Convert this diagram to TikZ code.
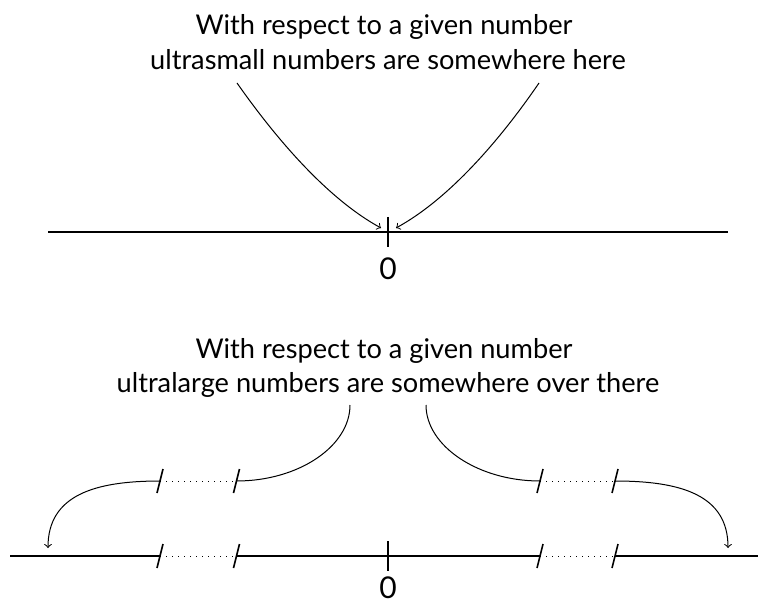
\documentclass[tikz,border=0pt]{standalone}
\usepackage{fontspec}
\newfontfamily\lbfont{Lato}
\begin{document}
\begin{tikzpicture}[x=0.5pt,y=-0.5pt,
  axis/.style={line width=0.8pt},
  arr/.style={line width=0.5pt,->},
  link/.style={line width=0.5pt},
  brk/.style={line width=0.8pt},
  gap/.style={line width=0.5pt,dash pattern=on 0.5pt off 2.5pt},
  lbl/.style={font=\lbfont\fontsize{13.6}{16}\selectfont, anchor=base, inner sep=0pt},
  zero/.style={font=\lbfont\fontsize{15}{18}\selectfont, anchor=base, inner sep=0pt},
  brkmark/.pic={\draw[brk] (3,-12) -- (-3,12);},
  tickmark/.pic={\draw[axis] (0,-15) -- (0,15);}]
\useasboundingbox (0,0) rectangle (758,603);

% ---------- top diagram ----------
\node[lbl] (ta) at (384,35) {With respect to a given number};
\node[lbl] (tb) at (388,70) {ultrasmall numbers are somewhere here};
\coordinate (tl) at (48,232);
\coordinate (tr) at (728,232);
\coordinate (t0) at (388,232);
\draw[axis] (tl) -- (tr);
\pic at (t0) {tickmark};
\node[zero] (z1) at (388,280) {0};
\coordinate (as1) at (237,83);
\coordinate (ae1) at (381,228);
\coordinate (as2) at (539,83);
\coordinate (ae2) at (396,228);
\draw[arr] (as1) .. controls (277,140) and (328,199) .. (ae1);
\draw[arr] (as2) .. controls (500,140) and (449,199) .. (ae2);

% ---------- bottom diagram ----------
\node[lbl] (ba) at (384,358) {With respect to a given number};
\node[lbl] (bb) at (388,392) {ultralarge numbers are somewhere over there};

\coordinate (bl) at (10,556);
\coordinate (b1) at (160,556);
\coordinate (b2) at (236.5,556);
\coordinate (b0) at (388,556);
\coordinate (b3) at (540,556);
\coordinate (b4) at (615,556);
\coordinate (br) at (758,556);
\draw[axis] (bl) -- (b1);
\draw[gap] (b1) -- (b2);
\draw[axis] (b2) -- (b3);
\draw[gap] (b3) -- (b4);
\draw[axis] (b4) -- (br);
\pic at (b1) {brkmark};
\pic at (b2) {brkmark};
\pic at (b3) {brkmark};
\pic at (b4) {brkmark};
\pic at (b0) {tickmark};
\node[zero] (z2) at (388,598) {0};

\coordinate (u1) at (160,481);
\coordinate (u2) at (236.5,481);
\coordinate (u3) at (540,481);
\coordinate (u4) at (615,481);
\draw[gap] (u1) -- (u2);
\draw[gap] (u3) -- (u4);
\pic at (u1) {brkmark};
\pic at (u2) {brkmark};
\pic at (u3) {brkmark};
\pic at (u4) {brkmark};

\coordinate (cs1) at (350,405);
\coordinate (cs2) at (426,405);
\coordinate (al) at (48,548);
\coordinate (ar) at (728,548);
\draw[link] (cs1) .. controls (350,446) and (299,481) .. (u2);
\draw[link] (cs2) .. controls (426,446) and (478,481) .. (u3);
\draw[arr] (u1) .. controls (95,481) and (48,495) .. (al);
\draw[arr] (u4) .. controls (681,481) and (728,495) .. (ar);
\end{tikzpicture}
\end{document}
